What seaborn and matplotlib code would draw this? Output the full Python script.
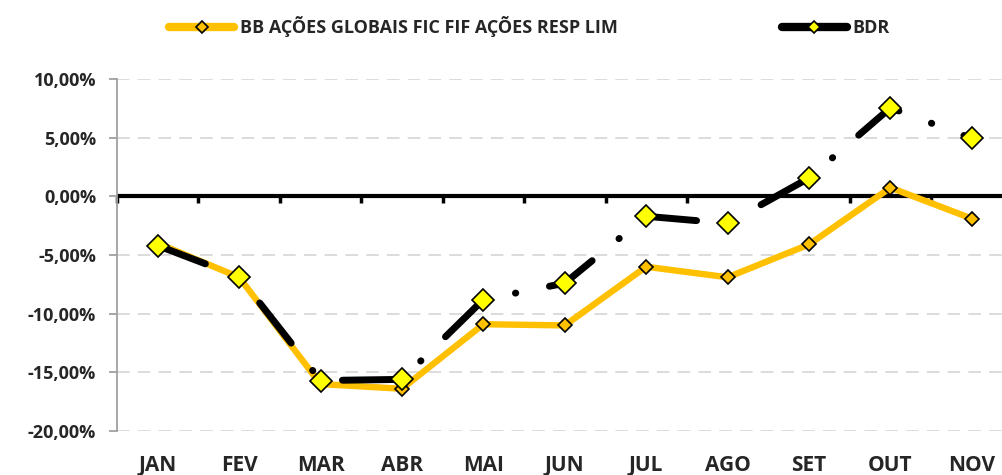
import numpy as np
import pandas as pd
import matplotlib
matplotlib.use('Agg')
import matplotlib.pyplot as plt
import seaborn as sns
from matplotlib.ticker import FuncFormatter

# data (monthly return, %)
months = ['JAN', 'FEV', 'MAR', 'ABR', 'MAI', 'JUN', 'JUL', 'AGO', 'SET', 'OUT', 'NOV']
fundo = [-4.0, -6.9, -16.0, -16.4, -10.9, -11.0, -6.0, -6.9, -4.1, 0.74, -1.9]
bdr = [-4.2, -6.85, -15.7, -15.6, -8.8, -7.4, -1.7, -2.3, 1.56, 7.55, 4.93]
label_fundo = 'BB AÇÕES GLOBAIS FIC FIF AÇÕES RESP LIM'
label_bdr = 'BDR'

df = pd.DataFrame({'pos': np.arange(len(months)), 'mes': months,
                   'fundo': fundo, 'bdr': bdr})

sns.set_style('white')
plt.rcParams['font.family'] = ['Open Sans', 'DejaVu Sans']
WEIGHT = 'bold'

fig = plt.figure(figsize=(10.02, 4.75), dpi=100)
ax = fig.add_axes([117 / 1002, 44 / 475, 1 - 117 / 1002, 352 / 475])

ymin, ymax = -20, 10

sns.lineplot(data=df, x='pos', y='fundo', ax=ax, color='#FFC000', lw=4.6,
             marker='D', markersize=7, markerfacecolor='#FFC000',
             markeredgecolor='black', markeredgewidth=1.2, label=label_fundo,
             solid_capstyle='round', zorder=3)
sns.lineplot(data=df, x='pos', y='bdr', ax=ax, color='black', lw=5,
             linestyle=(0, (7.35, 5.0, 0.05, 4.95)), dash_capstyle='round',
             marker='D', markersize=11.5, markerfacecolor='#FFFF00',
             markeredgecolor='black', markeredgewidth=1.2, label=label_bdr,
             zorder=4)

ax.set_xlim(-0.5, 10.37)
ax.set_ylim(ymin, ymax)
ax.set_yticks(np.arange(ymin, ymax + 1, 5))
ax.yaxis.set_major_formatter(FuncFormatter(lambda v, p: f'{v:.2f}'.replace('.', ',') + '%'))
ax.set_xticks(df['pos'])
ax.set_xticklabels(months)
ax.set_xlabel('')
ax.set_ylabel('')

ax.grid(axis='y', color='#D9D9D9', lw=1.3, linestyle=(0, (7, 4.5)))
ax.grid(axis='x', visible=False)
ax.set_axisbelow(True)

for s in ['top', 'right', 'bottom']:
    ax.spines[s].set_visible(False)
ax.spines['left'].set_color('#A0A0A0')
ax.spines['left'].set_linewidth(1.3)
ax.tick_params(axis='y', left=True, length=6, width=1.3, color='#A0A0A0',
               pad=9, labelsize=13)
ax.tick_params(axis='x', bottom=False, length=0, pad=17, labelsize=15)
for t in ax.get_xticklabels() + ax.get_yticklabels():
    t.set_fontweight(WEIGHT)

# zero line with category boundary ticks
ax.axhline(0, color='black', lw=3, zorder=2)
zero = ax.secondary_xaxis((0 - ymin) / (ymax - ymin))
zero.set_alignment('bottom')
zero.spines['bottom'].set_visible(False)
zero.set_xticks(np.arange(-0.5, len(months), 1))
zero.tick_params(axis='x', direction='out', length=5, width=2.5, color='black',
                 labelbottom=False, labeltop=False)

handles, labels = ax.get_legend_handles_labels()
ax.get_legend().remove()
leg = fig.legend(handles, labels, loc='upper left', bbox_to_anchor=(153 / 1002, 1.0),
                 ncol=2, frameon=False, prop={'size': 13, 'weight': WEIGHT},
                 handlelength=3.6, handletextpad=0.3, columnspacing=9.1)
for h in leg.legend_handles:
    h.set_markersize(6)
    h.set_linestyle('-')
    h.set_solid_capstyle('round')
    h.set_linewidth(6)

fig.savefig('out.png', dpi=100)
